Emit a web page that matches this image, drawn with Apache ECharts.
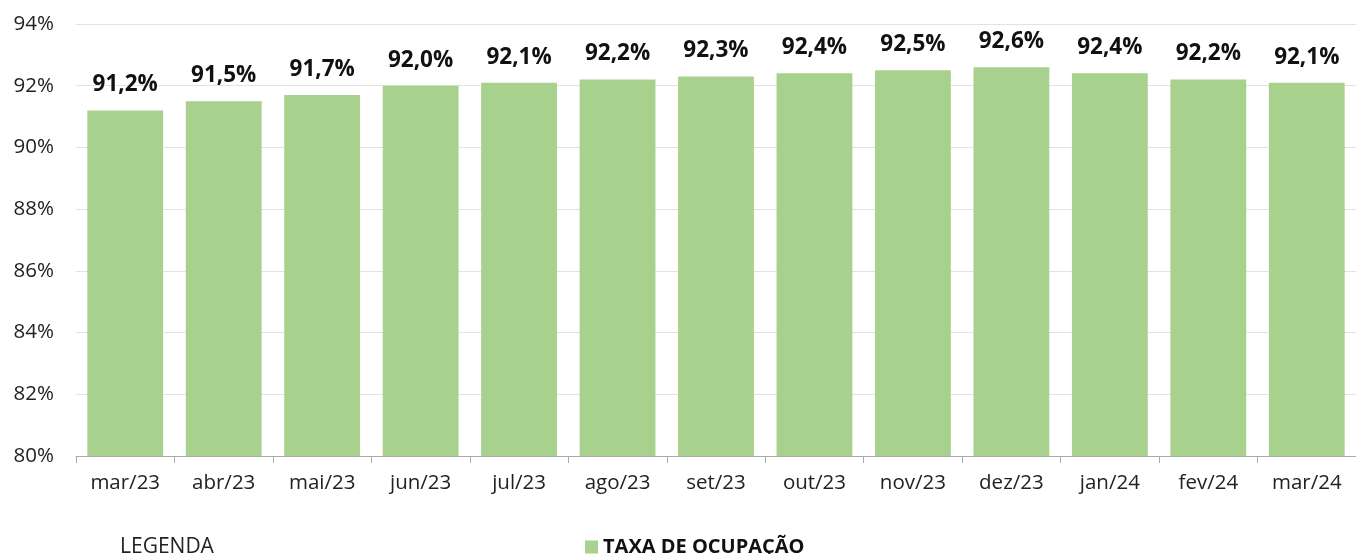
<!DOCTYPE html>
<html><head><meta charset="utf-8">
<script src="https://cdn.jsdelivr.net/npm/echarts@6/dist/echarts.min.js"></script>
<style>html,body{margin:0;padding:0;background:#fff}#c{width:1356px;height:554px}</style>
</head><body><div id="c"></div>
<script>
const categories = ['mar/23','abr/23','mai/23','jun/23','jul/23','ago/23','set/23','out/23','nov/23','dez/23','jan/24','fev/24','mar/24'];
const taxaOcupacao = [91.2,91.5,91.7,92.0,92.1,92.2,92.3,92.4,92.5,92.6,92.4,92.2,92.1];
const seriesName = 'TAXA DE OCUPAÇÃO';
const legendTitle = 'LEGENDA';
const FONT = '"Open Sans", sans-serif';
const chart = echarts.init(document.getElementById('c'));
chart.setOption({
  animation: false,
  grid: {left: 76, right: -4, top: 24, bottom: 98},
  legend: {
    data: [seriesName], left: 580, top: 532, icon: 'rect', itemWidth: 13, itemHeight: 13, itemGap: 5,
    textStyle: {fontFamily: FONT, fontWeight: 'bold', fontSize: 20, color: '#111'}
  },
  graphic: [{type: 'text', left: 120, top: 537, style: {text: legendTitle, fontFamily: FONT, fontSize: 21, fill: '#222'}}],
  xAxis: {
    type: 'category', data: categories,
    axisLine: {lineStyle: {color: '#aaa'}},
    axisTick: {show: true, length: 7, lineStyle: {color: '#aaa'}},
    axisLabel: {fontFamily: FONT, fontSize: 20.5, color: '#222', margin: 17}
  },
  yAxis: {
    type: 'value', min: 80, max: 94, interval: 2,
    axisLine: {show: false}, axisTick: {show: false},
    splitLine: {lineStyle: {color: '#e2e2e2', width: 1}},
    axisLabel: {fontFamily: FONT, fontSize: 20.5, color: '#222', margin: 22, formatter: v => v + '%'}
  },
  series: [{
    name: seriesName, type: 'bar', data: taxaOcupacao, barCategoryGap: '23%',
    itemStyle: {color: '#a8d18d'},
    label: {show: true, position: 'top', distance: 14, fontFamily: FONT, fontWeight: 'bold', fontSize: 22.5, color: '#111',
      formatter: p => p.value.toFixed(1).replace('.', ',') + '%'}
  }]
});
</script></body></html>
